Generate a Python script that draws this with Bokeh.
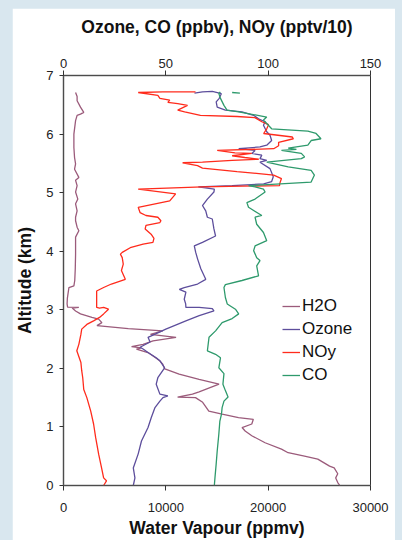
from bokeh.plotting import figure
from bokeh.models import Range1d, LinearAxis, FixedTicker, Legend, LegendItem
from bokeh.layouts import column
from bokeh.embed import file_html
from bokeh.resources import INLINE
import numpy as np

# Vertical profiles: altitude (km) and mixing ratios
h2o_alt = [0.00, 0.05, 0.13, 0.20, 0.30, 0.33, 0.45, 0.50, 0.56, 0.62, 0.73, 0.85, 0.93, 0.99,
           1.05, 1.13, 1.16, 1.22, 1.27, 1.42, 1.50, 1.51, 1.56, 1.60, 1.73, 1.81, 1.90, 1.99,
           2.07, 2.13, 2.21, 2.27, 2.33, 2.35, 2.37, 2.41, 2.47, 2.53, 2.58, 2.64, 2.68, 2.73,
           2.78, 2.84, 2.87, 2.93, 2.98, 3.03, 3.04, 3.045, 3.10, 3.20, 3.38, 3.41, 3.50, 3.70,
           3.95, 4.10, 4.24, 4.35, 4.41, 4.52, 4.58, 4.69, 4.81, 4.89, 5.01, 5.12, 5.21, 5.26,
           5.40, 5.49, 5.60, 5.77, 6.00, 6.23, 6.32, 6.34, 6.37, 6.46, 6.57, 6.64, 6.71]
h2o_ppmv = [27000, 26800, 26600, 26800, 26450, 26000, 24850, 23550, 21950, 21300, 19700, 18400,
            17750, 17450, 18400, 18550, 17100, 15500, 14200, 13600, 12900, 11150, 12600, 13250,
            15200, 13250, 11300, 9900, 9700, 9400, 8750, 8250, 7130, 7610, 6650, 7780, 8750,
            11000, 8500, 9700, 6330, 3270, 3750, 3430, 2780, 1660, 1180, 850, 1500, 400, 350,
            380, 530, 1015, 1100, 1150, 1180, 1180, 1180, 1500, 1330, 1180, 1180, 1330, 1180,
            1400, 1180, 1330, 1180, 1500, 1080, 1180, 1080, 1015, 1015, 1180, 1330, 1660, 1980,
            1660, 1330, 1330, 1180]

ozone_alt = [0.00, 0.13, 0.30, 0.54, 0.76, 0.99, 1.16, 1.33, 1.44, 1.50, 1.53, 1.56, 1.73, 1.84,
             2.01, 2.13, 2.18, 2.27, 2.33, 2.36, 2.45, 2.53, 2.58, 2.67, 2.81, 2.90, 2.98, 3.02,
             3.04, 3.04, 3.10, 3.18, 3.30, 3.35, 3.38, 3.44, 3.52, 3.70, 3.87, 3.98, 4.09, 4.15,
             4.26, 4.38, 4.55, 4.58, 4.69, 4.78, 4.89, 5.01, 5.06, 5.10, 5.12, 5.15, 5.19, 5.27,
             5.41, 5.52, 5.55, 5.58, 5.64, 5.67, 5.72, 5.75, 5.78, 5.81, 5.89, 5.98, 6.04, 6.15,
             6.21, 6.26, 6.32, 6.38, 6.41, 6.46, 6.55, 6.61, 6.69, 6.73, 6.72, 6.70]
ozone_ppbv = [34.1, 34.9, 34.1, 36.5, 38.1, 41.3, 42.9, 44.7, 47.1, 48.6, 51.0, 47.1, 45.3, 46.1,
              49.4, 47.1, 45.3, 41.3, 38.9, 37.4, 42.3, 41.3, 44.5, 50.0, 59.8, 66.3, 73.5, 72.7,
              66.3, 59.8, 59.7, 59.0, 59.8, 56.6, 59.0, 65.5, 69.5, 67.1, 65.5, 64.6, 63.9, 67.9,
              74.3, 73.5, 72.7, 70.3, 69.5, 67.9, 70.3, 73.5, 73.7, 65.9, 82.4, 97.8, 101.7, 102.5,
              100.9, 96.0, 99.3, 96.0, 96.9, 92.0, 93.6, 85.6, 96.0, 99.3, 101.7, 100.9, 99.3, 97.7,
              98.5, 95.3, 92.9, 87.2, 79.1, 75.1, 74.6, 76.1, 77.1, 72.7, 67.9, 64.0]

noy_alt = [0.00, 0.08, 0.13, 0.30, 0.53, 0.82, 1.05, 1.27, 1.50, 1.64, 1.84, 1.96, 2.10, 2.30,
           2.41, 2.58, 2.67, 2.75, 2.81, 2.87, 2.93, 3.01, 3.04, 3.03, 3.04, 3.15, 3.22, 3.32,
           3.38, 3.44, 3.52, 3.67, 3.78, 3.89, 3.95, 3.98, 4.06, 4.12, 4.15, 4.22, 4.29, 4.38,
           4.44, 4.49, 4.52, 4.58, 4.61, 4.66, 4.75, 4.86, 4.98, 5.06, 5.10, 5.12, 5.15, 5.24,
           5.30, 5.36, 5.42, 5.46, 5.51, 5.52, 5.55, 5.57, 5.60, 5.63, 5.67, 5.68, 5.72, 5.75,
           5.80, 5.86, 5.92, 5.95, 6.01, 6.09, 6.16, 6.21, 6.28, 6.30, 6.32, 6.38, 6.41, 6.49,
           6.52, 6.54, 6.58, 6.61, 6.66, 6.71, 6.72, 6.72]
noy_pptv10 = [19.6, 21.0, 19.6, 18.6, 17.2, 15.7, 14.7, 13.3, 11.4, 9.9, 9.4, 8.9, 8.5, 6.5,
              7.5, 8.5, 8.9, 11.4, 14.7, 17.6, 19.6, 22.0, 19.6, 17.6, 16.2, 16.2, 16.2, 16.2,
              19.6, 23.4, 30.2, 28.3, 29.2, 28.7, 27.8, 28.7, 32.6, 38.9, 43.7, 44.2, 42.8, 39.9,
              40.3, 47.1, 47.6, 46.1, 40.3, 37.4, 36.5, 51.9, 54.8, 36.5, 67.9, 105.6, 105.6, 106.5,
              102.7, 84.8, 67.9, 65.5, 58.2, 67.9, 82.4, 95.4, 88.6, 82.4, 92.0, 83.8, 75.1, 102.7,
              105.1, 105.1, 112.3, 111.8, 97.8, 99.3, 100.2, 96.9, 93.5, 84.8, 66.9, 59.2, 55.8, 60.6,
              55.8, 51.0, 51.9, 47.1, 46.1, 36.5, 48.6, 64.5]

co_alt = [0.00, 0.13, 0.37, 0.59, 0.88, 1.10, 1.22, 1.33, 1.44, 1.51, 1.62, 1.73, 1.91, 2.01,
          2.18, 2.24, 2.30, 2.53, 2.64, 2.78, 2.85, 2.93, 3.01, 3.10, 3.21, 3.38, 3.43, 3.50,
          3.58, 3.75, 3.84, 3.89, 4.01, 4.09, 4.18, 4.32, 4.46, 4.58, 4.61, 4.75, 4.83, 4.89,
          5.01, 5.06, 5.10, 5.12, 5.18, 5.30, 5.38, 5.44, 5.52, 5.58, 5.61, 5.67, 5.72, 5.74,
          5.76, 5.81, 5.89, 5.92, 6.01, 6.05, 6.09, 6.15, 6.24, 6.29, 6.38, 6.41, 6.49, 6.61,
          6.69, 6.72, np.nan, 6.71, 6.70]
co_ppbv = [73.7, 74.0, 74.6, 75.1, 75.9, 76.4, 77.2, 77.5, 78.4, 80.4, 79.1, 77.9, 78.4, 75.9,
           76.7, 74.3, 70.3, 71.1, 74.3, 77.5, 82.4, 85.6, 84.0, 80.0, 79.1, 78.4, 79.1, 87.2,
           95.3, 94.4, 96.0, 94.4, 92.9, 93.6, 99.3, 97.7, 94.4, 93.6, 96.9, 90.4, 89.6, 93.6,
           98.5, 97.7, 93.6, 90.4, 121.0, 122.6, 121.0, 109.8, 99.3, 116.2, 117.8, 116.2, 106.5,
           113.8, 109.8, 119.4, 121.0, 125.8, 123.4, 119.4, 101.7, 100.1, 97.7, 99.3, 85.6, 79.9,
           78.4, 76.7, 75.9, 76.6, np.nan, 82.4, 86.2]

top_ticks = [0, 50, 100, 150]
bottom_ticks = [0, 10000, 20000, 30000]
alt_ticks = [0, 1, 2, 3, 4, 5, 6, 7]

PAGE_BG = "#d9e7ef"
FONT = "Liberation Sans"
AXIS_GREY = "#666666"

p = figure(width=383, height=532, output_backend="svg", toolbar_location=None,
           x_range=Range1d(0, 150), y_range=Range1d(0, 7), x_axis_location="above",
           min_border_left=48, min_border_right=25, min_border_top=67, min_border_bottom=55)
p.extra_x_ranges = {"h2o": Range1d(0, 30000)}
p.border_fill_color = "white"
p.background_fill_color = "white"
p.outline_line_color = "#333333"
p.outline_line_width = 1
p.xgrid.visible = False
p.ygrid.visible = False

bottom = LinearAxis(x_range_name="h2o")
p.add_layout(bottom, "below")

for ax in (p.xaxis[0], bottom, p.yaxis[0]):
    ax.axis_line_color = AXIS_GREY
    ax.axis_line_width = 2
    ax.axis_line_dash = "1 1"
    ax.major_tick_line_color = "#333333"
    ax.major_tick_in = 0
    ax.major_tick_out = 5
    ax.minor_tick_line_color = None
    ax.major_label_text_font = FONT
    ax.major_label_text_font_size = "13px"
    ax.major_label_text_color = "#222222"
    ax.axis_label_text_font = FONT
    ax.axis_label_text_font_size = "17.5px"
    ax.axis_label_text_font_style = "bold"
    ax.axis_label_text_color = "#111111"

p.xaxis[0].ticker = FixedTicker(ticks=top_ticks)
p.xaxis[0].axis_label = "Ozone, CO (ppbv), NOy (pptv/10)"
p.xaxis[0].axis_label_standoff = 19
p.xaxis[0].major_label_standoff = 3

bottom.ticker = FixedTicker(ticks=bottom_ticks)
bottom.axis_label = "Water Vapour (ppmv)"
bottom.axis_label_standoff = 3
bottom.major_label_standoff = 12
bottom.major_label_text_line_height = 1.0
bottom.axis_label_text_line_height = 1.0

p.yaxis[0].ticker = FixedTicker(ticks=alt_ticks)
p.yaxis[0].axis_label = "Altitude (km)"
p.yaxis[0].major_tick_out = 4
p.yaxis[0].major_label_standoff = 6
p.yaxis[0].axis_label_standoff = 8

LW = 1.3
r_h2o = p.line(h2o_ppmv, h2o_alt, x_range_name="h2o", line_color="#9b5b7b", line_width=LW)
r_o3 = p.line(ozone_ppbv, ozone_alt, line_color="#5d4e9c", line_width=LW)
r_noy = p.line(noy_pptv10, noy_alt, line_color="#ff2b1c", line_width=LW)
r_co = p.line(co_ppbv, co_alt, line_color="#2e9a6c", line_width=LW)

legend = Legend(items=[LegendItem(label="H2O", renderers=[r_h2o]),
                       LegendItem(label="Ozone", renderers=[r_o3]),
                       LegendItem(label="NOy", renderers=[r_noy]),
                       LegendItem(label="CO", renderers=[r_co])],
                location=(219, 100))
legend.border_line_color = None
legend.background_fill_alpha = 0
legend.padding = 0
legend.margin = 0
legend.spacing = 3
legend.glyph_width = 18
legend.glyph_height = 20
legend.label_standoff = 2
legend.label_text_font = FONT
legend.label_text_font_size = "17px"
legend.label_text_color = "#111111"
p.add_layout(legend, "center")

page = column(p, styles={"background-color": PAGE_BG, "padding-left": "12px",
                         "padding-top": "8px", "padding-right": "7px"})

open("out.html", "w").write(file_html(page, INLINE))
